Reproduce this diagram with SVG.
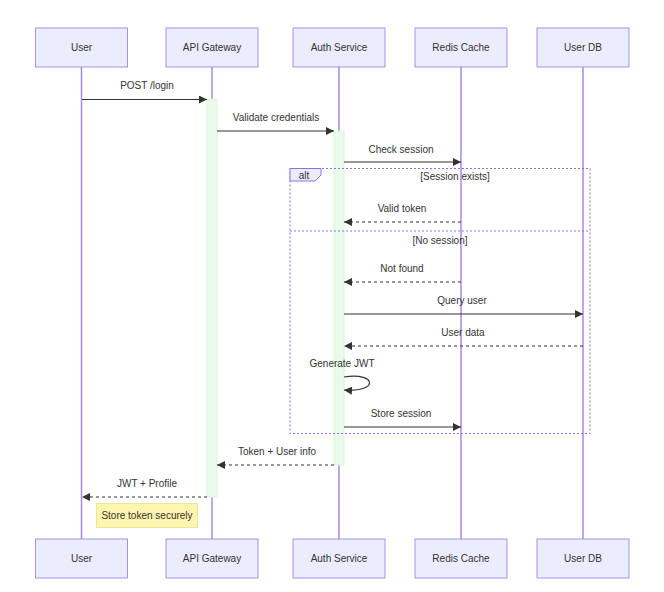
<svg xmlns="http://www.w3.org/2000/svg" width="664" height="592" viewBox="0 0 664 592">
<defs>
<marker id="arr" viewBox="0 0 10 10" refX="10" refY="5" markerWidth="8" markerHeight="8" markerUnits="userSpaceOnUse" orient="auto">
<path d="M0,0 L10,5 L0,10 z" fill="#333"/>
</marker>
<style>
text{font-family:"Liberation Sans",Arial,sans-serif;font-size:10px;fill:#333;text-anchor:middle;dominant-baseline:central}
.actor{fill:#ECECFF;stroke:#a792ea;stroke-width:1}
.life{stroke:#a58ae8;stroke-width:1.5}
.act{fill:#eafbec;stroke:#d8f5dc;stroke-width:1}
.msg{stroke:#333;stroke-width:1.2;fill:none;marker-end:url(#arr)}
.dash{stroke-dasharray:3,3}
.frame{fill:none;stroke:#9370DB;stroke-width:1;stroke-dasharray:2,2}
</style>
</defs>
<rect width="664" height="592" fill="#fff"/>
<g id="lifelines">
<line class="life" x1="81.5" y1="67" x2="81.5" y2="539"/>
<line class="life" x1="212" y1="67" x2="212" y2="539"/>
<line class="life" x1="339" y1="67" x2="339" y2="539"/>
<line class="life" x1="461" y1="67" x2="461" y2="539"/>
<line class="life" x1="583" y1="67" x2="583" y2="539"/>
</g>
<g id="activations">
<rect class="act" x="207" y="99" width="10" height="398"/>
<rect class="act" x="334" y="131" width="10" height="334"/>
</g>
<g id="actors-top">
<g id="user"><rect class="actor" x="35.5" y="28" width="92" height="39"/><text x="81.5" y="47.5">User</text></g>
<g id="api-gateway"><rect class="actor" x="166" y="28" width="92" height="39"/><text x="212" y="47.5">API Gateway</text></g>
<g id="auth-service"><rect class="actor" x="293" y="28" width="92" height="39"/><text x="339" y="47.5">Auth Service</text></g>
<g id="redis-cache"><rect class="actor" x="415" y="28" width="92" height="39"/><text x="461" y="47.5">Redis Cache</text></g>
<g id="user-db"><rect class="actor" x="537" y="28" width="92" height="39"/><text x="583" y="47.5">User DB</text></g>
</g>
<g id="actors-bottom">
<g id="user-b"><rect class="actor" x="35.5" y="539" width="92" height="39"/><text x="81.5" y="558.5">User</text></g>
<g id="api-gateway-b"><rect class="actor" x="166" y="539" width="92" height="39"/><text x="212" y="558.5">API Gateway</text></g>
<g id="auth-service-b"><rect class="actor" x="293" y="539" width="92" height="39"/><text x="339" y="558.5">Auth Service</text></g>
<g id="redis-cache-b"><rect class="actor" x="415" y="539" width="92" height="39"/><text x="461" y="558.5">Redis Cache</text></g>
<g id="user-db-b"><rect class="actor" x="537" y="539" width="92" height="39"/><text x="583" y="558.5">User DB</text></g>
</g>
<g id="alt-frame">
<rect class="frame" x="290" y="168.5" width="300" height="265"/>
<line class="frame" x1="290" y1="231" x2="590" y2="231"/>
<polygon points="290,168.5 321,168.5 321,175 315,181 290,181" fill="#ECECFF" stroke="#9370DB" stroke-width="1"/>
<text x="304" y="175">alt</text>
<text x="455" y="176.5">[Session exists]</text>
<text x="440" y="240">[No session]</text>
</g>
<g id="connectors">
<line class="msg" x1="82" y1="99.5" x2="207" y2="99.5"/>
<text x="147" y="85.5">POST /login</text>
<line class="msg" x1="217" y1="131" x2="334" y2="131"/>
<text x="276" y="117.5">Validate credentials</text>
<line class="msg" x1="344" y1="162" x2="461" y2="162"/>
<text x="401" y="149.5">Check session</text>
<line class="msg dash" x1="461" y1="222" x2="344" y2="222"/>
<text x="402" y="208.5">Valid token</text>
<line class="msg dash" x1="461" y1="282" x2="344" y2="282"/>
<text x="402" y="268.5">Not found</text>
<line class="msg" x1="344" y1="314" x2="583" y2="314"/>
<text x="462" y="300.5">Query user</text>
<line class="msg dash" x1="583" y1="346" x2="344" y2="346"/>
<text x="463" y="332.5">User data</text>
<path class="msg" d="M344,377 C378,372 378,393 344,390"/>
<text x="342" y="363.5">Generate JWT</text>
<line class="msg" x1="344" y1="427" x2="461" y2="427"/>
<text x="401" y="413.5">Store session</text>
<line class="msg dash" x1="334" y1="465" x2="217" y2="465"/>
<text x="277" y="451.5">Token + User info</text>
<line class="msg dash" x1="207" y1="497" x2="82" y2="497"/>
<text x="147" y="483.5">JWT + Profile</text>
</g>
<g id="note">
<rect x="96.5" y="503.5" width="101" height="24" fill="#fff5ad" stroke="#e6e6a0" stroke-width="1"/>
<text x="147" y="515.5">Store token securely</text>
</g>
</svg>
